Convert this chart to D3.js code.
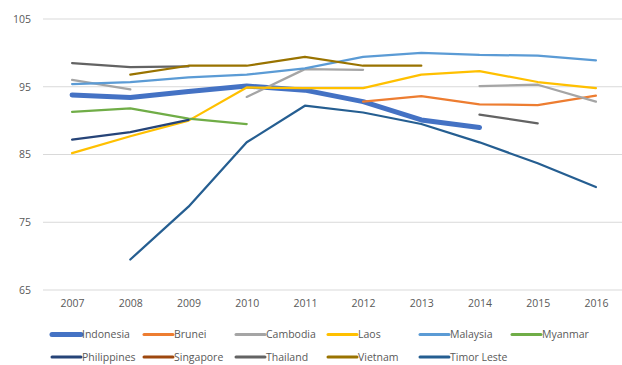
<!DOCTYPE html>
<html>
<head>
<meta charset="utf-8">
<script src="https://cdn.jsdelivr.net/npm/d3@7"></script>
<style>
  html, body { margin: 0; padding: 0; background: #fff; }
  svg { display: block; }
  text { font-family: "Open Sans", Lato, sans-serif; fill: #595959; }
</style>
</head>
<body>
<svg id="chart" width="622" height="365"></svg>
<script>
// Years on the category axis
const years = ["2007","2008","2009","2010","2011","2012","2013","2014","2015","2016"];
// Y-axis tick values
const yTicks = [65, 75, 85, 95, 105];

// One value per year; null means no data for that year
const indonesia  = [93.8, 93.4, 94.3, 95.1, 94.5, 92.8, 90.1, 89.0, null, null];
const brunei     = [null, null, null, null, null, 92.8, 93.6, 92.4, 92.3, 93.7];
const cambodia   = [96.0, 94.6, null, 93.5, 97.6, 97.5, null, 95.1, 95.3, 92.8];
const laos       = [85.2, 87.7, 90.0, 94.9, 94.8, 94.8, 96.8, 97.3, 95.7, 94.8];
const malaysia   = [95.4, 95.7, 96.4, 96.8, 97.7, 99.4, 100.0, 99.7, 99.6, 98.9];
const myanmar    = [91.3, 91.8, 90.3, 89.5, null, null, null, null, null, null];
const philippines= [87.2, 88.3, 90.1, null, null, null, null, null, null, null];
const singapore  = [null, null, null, null, null, null, null, null, null, null];
const thailand   = [98.5, 97.9, 98.0, null, null, null, null, 90.9, 89.6, null];
const vietnam    = [null, 96.8, 98.1, 98.1, 99.4, 98.1, 98.1, null, null, null];
const timorLeste = [null, 69.5, 77.3, 86.8, 92.2, 91.2, 89.5, 86.8, 83.7, 80.2];

const seriesNames  = ["Indonesia","Brunei","Cambodia","Laos","Malaysia","Myanmar",
                      "Philippines","Singapore","Thailand","Vietnam","Timor Leste"];
const seriesValues = [indonesia, brunei, cambodia, laos, malaysia, myanmar,
                      philippines, singapore, thailand, vietnam, timorLeste];
const seriesColors = ["#4472C4","#ED7D31","#A5A5A5","#FFC000","#5B9BD5","#70AD47",
                      "#264478","#9E480E","#636363","#997300","#255E91"];
const seriesWidths = [5, 2.25, 2.25, 2.25, 2.25, 2.25, 2.25, 2.25, 2.25, 2.25, 2.25];

const svg = d3.select("#chart");
const font = "'Open Sans', Lato, sans-serif";

const x = d3.scalePoint().domain(years).range([43, 625]).padding(0.5);
const y = d3.scaleLinear().domain([65, 105]).range([290, 19]);

// Horizontal gridlines
svg.append("g")
  .selectAll("line")
  .data(yTicks)
  .join("line")
  .attr("x1", 43).attr("x2", 622)
  .attr("y1", d => y(d)).attr("y2", d => y(d))
  .attr("stroke", "#d9d9d9").attr("stroke-width", 1);

// Y axis labels
const yAxis = d3.axisLeft(y).tickValues(yTicks).tickSize(0).tickPadding(0);
svg.append("g")
  .attr("transform", "translate(31,0)")
  .call(yAxis)
  .call(g => g.select(".domain").remove())
  .call(g => g.selectAll("text")
    .attr("font-size", "10.5px")
    .attr("font-family", font)
    .attr("fill", "#595959"));

// X axis labels
const xAxis = d3.axisBottom(x).tickSize(0).tickPadding(0);
svg.append("g")
  .attr("transform", "translate(0,300)")
  .call(xAxis)
  .call(g => g.select(".domain").remove())
  .call(g => g.selectAll("text")
    .attr("font-size", "10.5px")
    .attr("font-family", font)
    .attr("fill", "#595959"));

// Series lines
const line = d3.line()
  .defined(d => d.v !== null)
  .x(d => x(d.year))
  .y(d => y(d.v));

const lines = svg.append("g");
seriesNames.forEach((name, i) => {
  const pts = years.map((yr, j) => ({ year: yr, v: seriesValues[i][j] }));
  lines.append("path")
    .datum(pts)
    .attr("d", line)
    .attr("fill", "none")
    .attr("stroke", seriesColors[i])
    .attr("stroke-width", seriesWidths[i])
    .attr("stroke-linejoin", "round")
    .attr("stroke-linecap", "round");
});

// Legend: two rows of six columns
const legend = svg.append("g");
seriesNames.forEach((name, i) => {
  const col = i % 6, row = Math.floor(i / 6);
  const lx = 52 + col * 92;
  const ly = 334.5 + row * 22.5;
  legend.append("line")
    .attr("x1", lx).attr("x2", lx + 29)
    .attr("y1", ly).attr("y2", ly)
    .attr("stroke", seriesColors[i])
    .attr("stroke-width", i === 0 ? 5 : 3)
    .attr("stroke-linecap", "round");
  legend.append("text")
    .attr("x", lx + 30).attr("y", ly)
    .attr("dy", "0.35em")
    .attr("font-size", "10.5px")
    .text(name);
});
</script>
</body>
</html>
